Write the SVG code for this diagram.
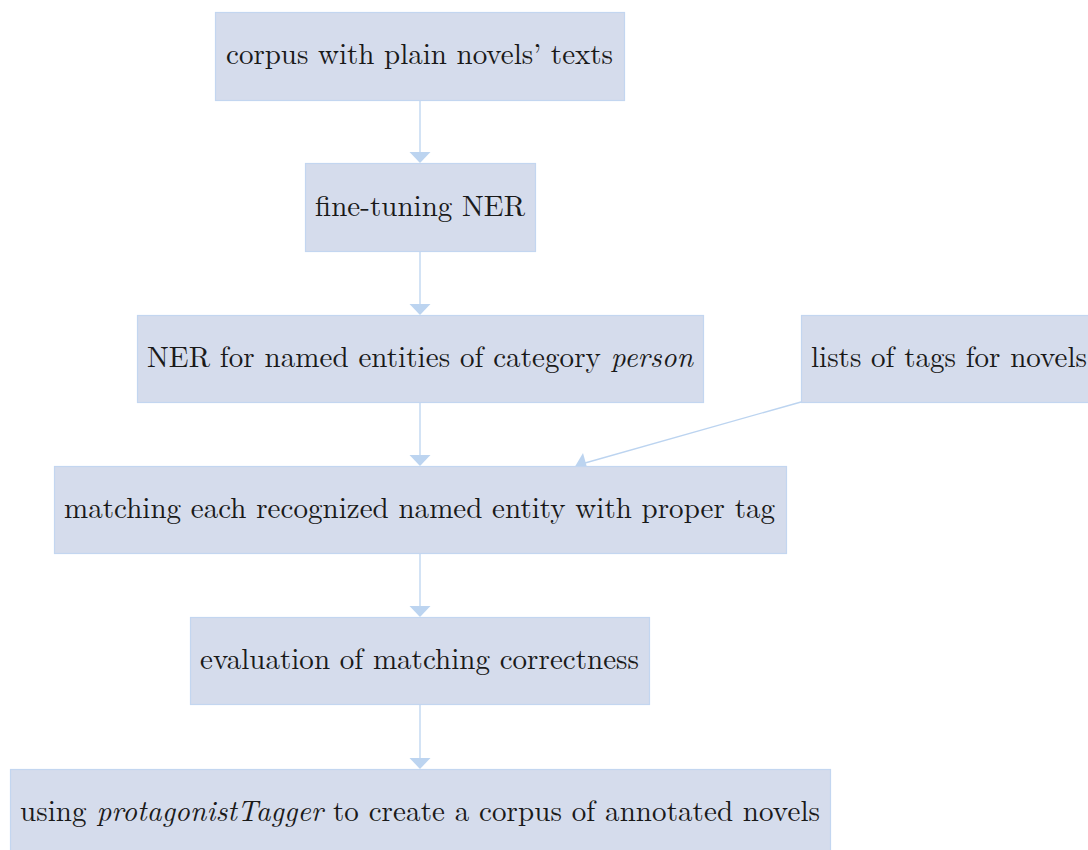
<svg xmlns="http://www.w3.org/2000/svg" width="1088" height="850" viewBox="0 0 1088 850">
  <style>
    .box { fill: #d5dcec; stroke: #c3d6f0; stroke-width: 1.2; }
    .lbl { font-size: 29px; fill: #1a1a1a; }
    .it { font-style: italic; }
    .edge { stroke: #bcd4f0; stroke-width: 1.3; fill: none; }
    .head { fill: #bcd4f0; }
  </style>
  <rect width="1088" height="850" fill="#ffffff"/>

  <g id="connectors">
    <line class="edge" x1="420" y1="100" x2="420" y2="153"/>
    <polygon class="head" points="409.5,152 430.5,152 420,163"/>
    <line class="edge" x1="420" y1="251" x2="420" y2="305"/>
    <polygon class="head" points="409.5,304 430.5,304 420,315"/>
    <line class="edge" x1="420" y1="402" x2="420" y2="456"/>
    <polygon class="head" points="409.5,455 430.5,455 420,466"/>
    <line class="edge" x1="420" y1="553" x2="420" y2="607"/>
    <polygon class="head" points="409.5,606 430.5,606 420,617"/>
    <line class="edge" x1="420" y1="704" x2="420" y2="759"/>
    <polygon class="head" points="409.5,758 430.5,758 420,769"/>
    <line class="edge" x1="801" y1="402" x2="585" y2="463"/>
    <polygon class="head" points="575,466.5 583,453 588,471"/>
  </g>

  <g font-family="'Latin Modern Roman', 'CMU Serif', 'Noto Serif', FreeSerif, 'Liberation Serif', serif">
    <g id="n1">
      <rect class="box" x="215.5" y="12.5" width="409" height="88"/>
      <text class="lbl" x="226" y="64" textLength="387" lengthAdjust="spacing">corpus with plain novels’ texts</text>
    </g>
    <g id="n2">
      <rect class="box" x="305.5" y="163.5" width="230" height="88"/>
      <text class="lbl" x="315" y="216" textLength="210" lengthAdjust="spacing">fine-tuning NER</text>
    </g>
    <g id="n3">
      <rect class="box" x="137.5" y="315.5" width="566" height="87"/>
      <text class="lbl" x="147" y="367" textLength="546" lengthAdjust="spacing">NER for named entities of category <tspan class="it">person</tspan></text>
    </g>
    <g id="n4">
      <rect class="box" x="801.5" y="315.5" width="290" height="87"/>
      <text class="lbl" x="811" y="367" textLength="276" lengthAdjust="spacing">lists of tags for novels</text>
    </g>
    <g id="n5">
      <rect class="box" x="54.5" y="466.5" width="732" height="87"/>
      <text class="lbl" x="64" y="518" textLength="711" lengthAdjust="spacing">matching each recognized named entity with proper tag</text>
    </g>
    <g id="n6">
      <rect class="box" x="190.5" y="617.5" width="459" height="87"/>
      <text class="lbl" x="200" y="669" textLength="439" lengthAdjust="spacing">evaluation of matching correctness</text>
    </g>
    <g id="n7">
      <rect class="box" x="10.5" y="769.5" width="820" height="88"/>
      <text class="lbl" x="20" y="821" textLength="800" lengthAdjust="spacing">using <tspan class="it">protagonistTagger</tspan> to create a corpus of annotated novels</text>
    </g>
  </g>
</svg>
